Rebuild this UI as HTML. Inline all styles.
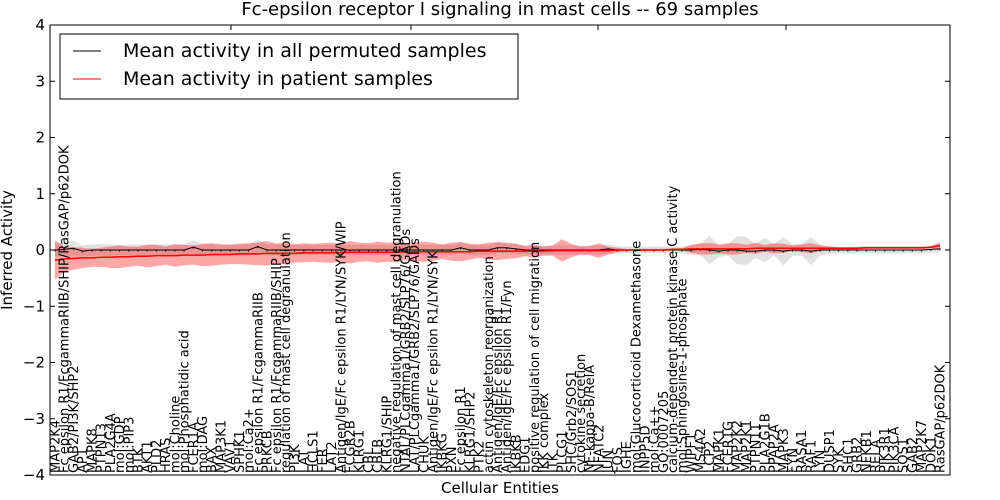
<!DOCTYPE html>
<html><head><meta charset="utf-8"><style>
html,body{margin:0;padding:0;background:#fff;}
svg{display:block;font-family:"DejaVu Sans","Liberation Sans",sans-serif;}
</style></head><body>
<svg id="chart" width="1000" height="500" viewBox="0 0 1000 500" xmlns="http://www.w3.org/2000/svg">
<rect x="0" y="0" width="1000" height="500" fill="#fff"/>
<text x="500" y="15" text-anchor="middle" font-size="18">Fc-epsilon receptor I signaling in mast cells -- 69 samples</text>
<g id="bands"></g>
<g id="lines"></g>
<g id="xlabels"></g>
<g id="yaxis"></g>
<rect x="50" y="25" width="900" height="450" fill="none" stroke="#000" stroke-width="1"/>
<text transform="translate(12,250) rotate(-90)" text-anchor="middle" font-size="15">Inferred Activity</text>
<text x="500" y="493" text-anchor="middle" font-size="15">Cellular Entities</text>
<g>
<rect x="60" y="34" width="458" height="65" fill="#fff" stroke="#000" stroke-width="1"/>
<line x1="73" y1="51" x2="101" y2="51" stroke="#000" stroke-width="1"/>
<text x="123" y="57" font-size="19">Mean activity in all permuted samples</text>
<line x1="73" y1="79" x2="101" y2="79" stroke="#f00" stroke-width="1"/>
<text x="123" y="85" font-size="19">Mean activity in patient samples</text>
</g>
</svg>
<script>
const categories = ["MAP2K4","Fc epsilon R1/FcgammaRIIB/SHIP/RasGAP/p62DOK","GAB2/PI3K/SHP2","AP1","MAPK8","PTPN13","PLA2G4A","mol:GDP","mol:PIP3","BTK","AKT1","PLD2","HRAS","mol:Choline","mol:Phosphatidic acid","FCER1A","mol:DAG","BAX","MAP3K1","VAV1","SPHK1","mol:Ca2+","Fc epsilon R1/FcgammaRIIB","PRKCB","Fc epsilon R1/FcgammaRIIB/SHIP","regulation of mast cell degranulation","PI3K","LAT","HCLS1","FER","LAT2","Antigen/IgE/Fc epsilon R1/LYN/SYK/WIP","FCGR2B","KLRG1","CBL","CBLB","KLRG1/SHIP","negative regulation of mast cell degranulation","NTAL/PLCgamma1/GRB2/SLP76/GADs","LAT/PLCgamma1/GRB2/SLP76/GADs","CHUK","Antigen/IgE/Fc epsilon R1/LYN/SYK","IKBKG","PXN","Fc epsilon R1","KLRG1/SHP2","PTK2","actin cytoskeleton reorganization","Antigen/IgE/Fc epsilon R1","Antigen/IgE/Fc epsilon R1/Fyn","IKBKB","EDG1","positive regulation of cell migration","IKK complex","ITK","PLCG1","SHC/Grb2/SOS1","cytokine secretion","NF-kappa-B/RelA","NFATC2","JUN","FOS","IGHE","mol:Glucocorticoid Dexamethasone","INPP5D","mol:Ca++","GO:0007205","calcium-dependent protein kinase C activity","mol:Sphingosine-1-phosphate","WIPF1","MS4A2","LCP2","MAPK1","FCER1G","MAP2K2","MAP2K1","PTPN11","PLA2G1B","PPAP2A","MAPK3","FYN","RASA1","RAF1","LYN","DUSP1","SYK","SHC1","GRB2","NFKB1","RELA","PIK3R1","PIK3CA","SOS1","GAB2","MAP2K7","DOK1","RasGAP/p62DOK"];
const permMean = [0,0.01,0.03,-0.02,0,0,0,0,0,0,0,0,0,0,0,0.05,0,0,0,0,0,0,0.06,0,0,0,0,0,0,0,0,0,0,0,0,0,0,0,0,0,0,0,0,0,0.04,0,0,0,0.04,0.04,0.02,0,0,0,0,0,0,0,0,0,0.02,0,0,0,0,0,0,0,0,0,0.01,0,-0.02,0,0,-0.02,-0.02,0,0,-0.02,0,0,-0.02,0,0,0,0,0,0,0,0,0,0,0,0,0.01,0.02];
const permSd = [0.12,0.12,0.13,0.1,0.1,0.1,0.1,0.09,0.1,0.1,0.1,0.1,0.1,0.1,0.1,0.12,0.1,0.1,0.1,0.1,0.1,0.1,0.12,0.1,0.1,0.1,0.09,0.09,0.09,0.09,0.09,0.09,0.09,0.09,0.09,0.09,0.09,0.09,0.09,0.09,0.09,0.09,0.09,0.09,0.1,0.09,0.09,0.09,0.1,0.1,0.09,0.08,0.08,0.08,0.08,0.08,0.08,0.08,0.08,0.08,0.08,0.07,0.06,0.06,0.06,0.06,0.06,0.06,0.06,0.08,0.1,0.25,0.1,0.1,0.25,0.25,0.12,0.22,0.1,0.25,0.1,0.1,0.25,0.1,0.07,0.06,0.06,0.06,0.06,0.06,0.06,0.06,0.06,0.06,0.06,0.06,0.06];
const patientMean = [-0.18,-0.16,-0.15,-0.14,-0.14,-0.13,-0.13,-0.12,-0.12,-0.11,-0.11,-0.1,-0.1,-0.1,-0.09,-0.09,-0.09,-0.08,-0.08,-0.08,-0.07,-0.07,-0.07,-0.06,-0.06,-0.06,-0.06,-0.05,-0.05,-0.05,-0.05,-0.05,-0.04,-0.04,-0.04,-0.04,-0.04,-0.04,-0.03,-0.03,-0.03,-0.03,-0.03,-0.03,-0.03,-0.03,-0.02,-0.02,-0.02,-0.02,-0.02,-0.02,-0.02,-0.02,-0.01,-0.01,-0.01,-0.01,-0.01,-0.01,-0.01,0,0,0,0,0,0,0.01,0.01,0.02,0.02,0.02,0.02,0.02,0.02,0.02,0.03,0.03,0.03,0.03,0.03,0.03,0.03,0.03,0.03,0.03,0.03,0.03,0.04,0.04,0.04,0.04,0.04,0.04,0.04,0.05,0.08];
const patientSd = [0.35,0.22,0.2,0.18,0.16,0.17,0.19,0.2,0.18,0.17,0.2,0.19,0.16,0.2,0.18,0.17,0.2,0.2,0.18,0.17,0.18,0.19,0.2,0.22,0.17,0.2,0.16,0.17,0.16,0.17,0.18,0.16,0.2,0.17,0.16,0.19,0.17,0.18,0.15,0.17,0.18,0.16,0.13,0.16,0.17,0.14,0.12,0.15,0.16,0.14,0.13,0.09,0.12,0.08,0.09,0.2,0.12,0.07,0.08,0.13,0.07,0.04,0.02,0.02,0.02,0.02,0.02,0.02,0.02,0.07,0.1,0.1,0.08,0.1,0.1,0.07,0.1,0.06,0.09,0.08,0.05,0.07,0.09,0.05,0.03,0.02,0.02,0.02,0.02,0.02,0.02,0.02,0.02,0.02,0.02,0.02,0.06];
const yTicks = [-4,-3,-2,-1,0,1,2,3,4];

const NS = "http://www.w3.org/2000/svg";
const X0 = 55, XN = 940, Y_TOP = 25, Y_BOT = 475, YMIN = -4, YMAX = 4;
function xScale(i){ return X0 + i*(XN-X0)/(categories.length-1); }
function yScale(v){ return Y_BOT - (v-YMIN)/(YMAX-YMIN)*(Y_BOT-Y_TOP); }
function mk(tag, attrs, parent){ const e=document.createElementNS(NS,tag); for(const k in attrs) e.setAttribute(k,attrs[k]); parent.appendChild(e); return e; }

function bandPath(mean, sd){
  let up = mean.map((m,i)=>xScale(i).toFixed(1)+","+yScale(m+sd[i]).toFixed(1));
  let dn = mean.map((m,i)=>xScale(i).toFixed(1)+","+yScale(m-sd[i]).toFixed(1)).reverse();
  return "M"+up.join("L")+"L"+dn.join("L")+"Z";
}
function linePath(mean){ return "M"+mean.map((m,i)=>xScale(i).toFixed(1)+","+yScale(m).toFixed(1)).join("L"); }

const bands = document.getElementById('bands');
const gb = mk('path',{d:bandPath(permMean,permSd),fill:"#c8c8c8","fill-opacity":"0.55",stroke:"none"},bands);


const rb = mk('path',{d:bandPath(patientMean,patientSd),fill:"#ff0000","fill-opacity":"0.35",stroke:"none"},bands);



const lines = document.getElementById('lines');
const bl = mk('path',{d:linePath(permMean),fill:"none",stroke:"#000","stroke-width":"1"},lines);


permMean.forEach((m,i)=>{
  const d = mk('rect',{x:(xScale(i)-0.5).toFixed(1),y:(yScale(m)-0.5).toFixed(1),width:1,height:2,fill:"#000"},lines);
  
  
});
const rl = mk('path',{d:linePath(patientMean),fill:"none",stroke:"#f00","stroke-width":"1.5"},lines);



const xl = document.getElementById('xlabels');
categories.forEach((c,i)=>{
  const x = xScale(i)+4.5;
  const t = mk('text',{transform:"translate("+x.toFixed(1)+",473) rotate(-90)","font-size":"13"},xl);
  t.textContent = c;
  
  
});

const ya = document.getElementById('yaxis');
yTicks.forEach(v=>{
  const y = yScale(v);
  const t = mk('text',{x:45,y:(y+5).toFixed(1),"text-anchor":"end","font-size":"15"},ya);
  t.textContent = String(v).replace('-','\u2212');
  
  
  const l1 = mk('line',{x1:50,x2:55,y1:y,y2:y,stroke:"#000"},ya);
  
  
  const l2 = mk('line',{x1:945,x2:950,y1:y,y2:y,stroke:"#000"},ya);
  
  
});
[231,411,598,786].forEach(x=>{
  const a = mk('line',{x1:x,x2:x,y1:25,y2:30,stroke:"#000"},ya);
  
  
});
</script>
</body></html>
